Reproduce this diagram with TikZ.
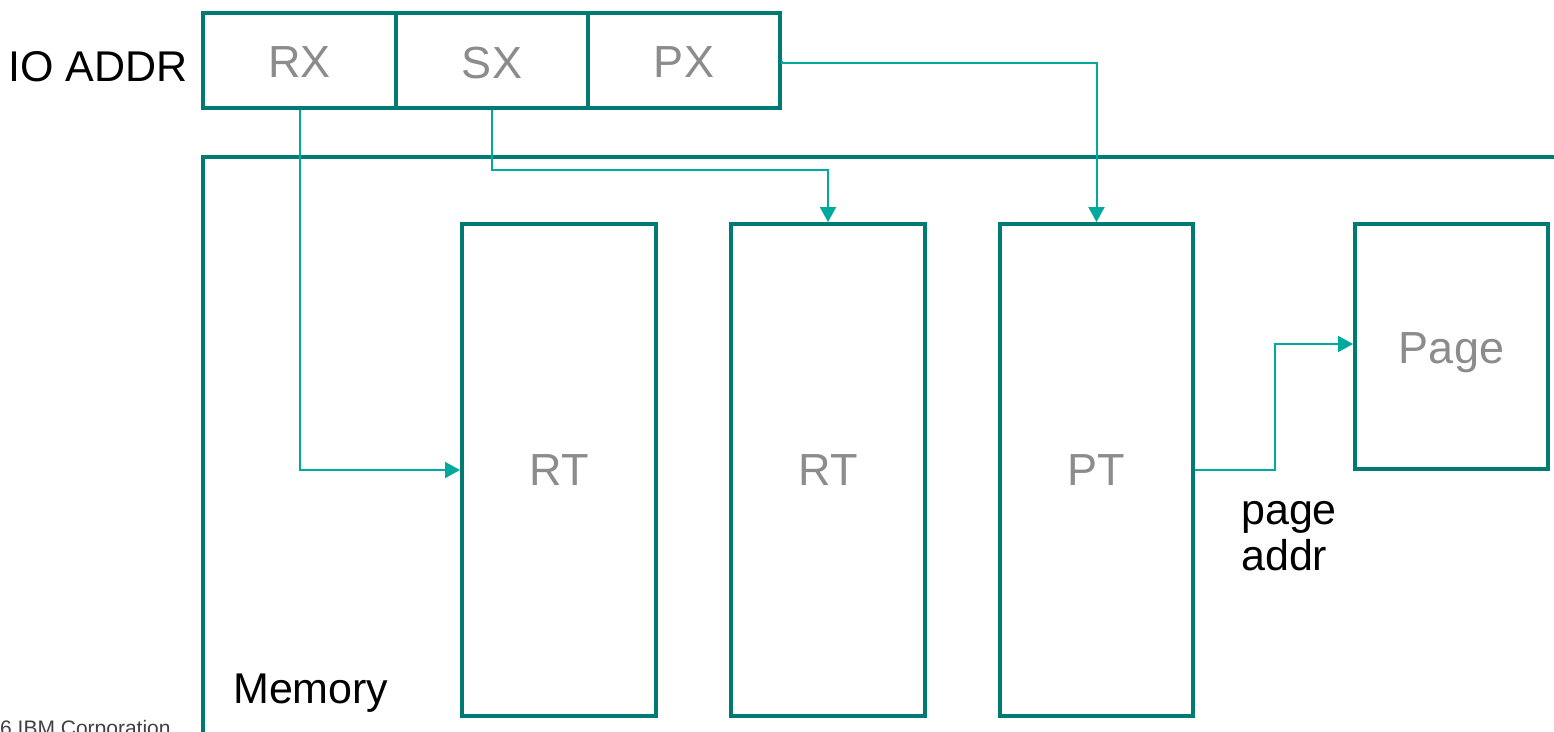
\documentclass[tikz,border=0pt]{standalone}
\usepackage{fontspec}
\setmainfont{Liberation Sans}
\usetikzlibrary{arrows.meta}
\definecolor{boxteal}{HTML}{007B73}
\definecolor{linkteal}{HTML}{00A99D}
\definecolor{labelgray}{HTML}{8C8C8C}
\tikzset{
  regbox/.style={draw=boxteal, line width=4pt, minimum height=95pt, minimum width=193pt, inner sep=0pt, text=labelgray, font=\fontsize{45}{50}\selectfont, text depth=0pt},
  tablebox/.style={draw=boxteal, line width=4pt, minimum width=194pt, minimum height=492pt, inner sep=0pt, text=labelgray, font=\fontsize{45}{50}\selectfont, text depth=0pt},
  link/.style={draw=linkteal, line width=2pt, -{Triangle[length=15pt,width=16pt]}},
  plain/.style={inner sep=0pt, text=black, font=\fontsize{43}{50}\selectfont},
}
\begin{document}
\begin{tikzpicture}[x=1pt,y=-1pt]
\useasboundingbox (0,0) rectangle (1554,731);
% memory region
\draw[boxteal, line width=4.5pt] (1570,157) -- (203,157) -- (203,745);
\node[plain, anchor=base west] (mem) at (233,703) {Memory};
% IO address register
\node[plain, anchor=base east] (ioaddr) at (188,81) {IO ADDR};
\node[regbox] (rx) at (299.5,60.5) {\raisebox{-4pt}{RX}};
\node[regbox, minimum width=192pt] (sx) at (492,60.5) {\raisebox{-4pt}{SX}};
\node[regbox, minimum width=192pt] (px) at (684,60.5) {\raisebox{-4pt}{PX}};
% tables
\node[tablebox] (rt1) at (559,470) {RT};
\node[tablebox] (rt2) at (828,470) {RT};
\node[tablebox, minimum width=193pt] (pt) at (1096.5,470) {PT};
\node[tablebox, minimum height=245pt, minimum width=193pt] (page) at (1451.5,346.5) {\raisebox{-3pt}{Page}};
\node[plain, anchor=base west] (lbl1) at (1241,524) {page};
\node[plain, anchor=base west] (lbl2) at (1241,570) {addr};
\node[inner sep=0pt, text=black!75, font=\fontsize{21}{24}\selectfont, anchor=base west] (copy) at (0,735) {6 IBM Corporation};
% connectors
\draw[link] (rx.south) |- (rt1.west);
\draw[link] (sx.south) -- ++(0,60) -| (rt2.north);
\draw[link] (px.east) -- ++(0,2.5) -| (pt.north);
\draw[link] (pt.east) -- ++(80,0) |- ([yshift=2.5pt]page.west);
\end{tikzpicture}
\end{document}
